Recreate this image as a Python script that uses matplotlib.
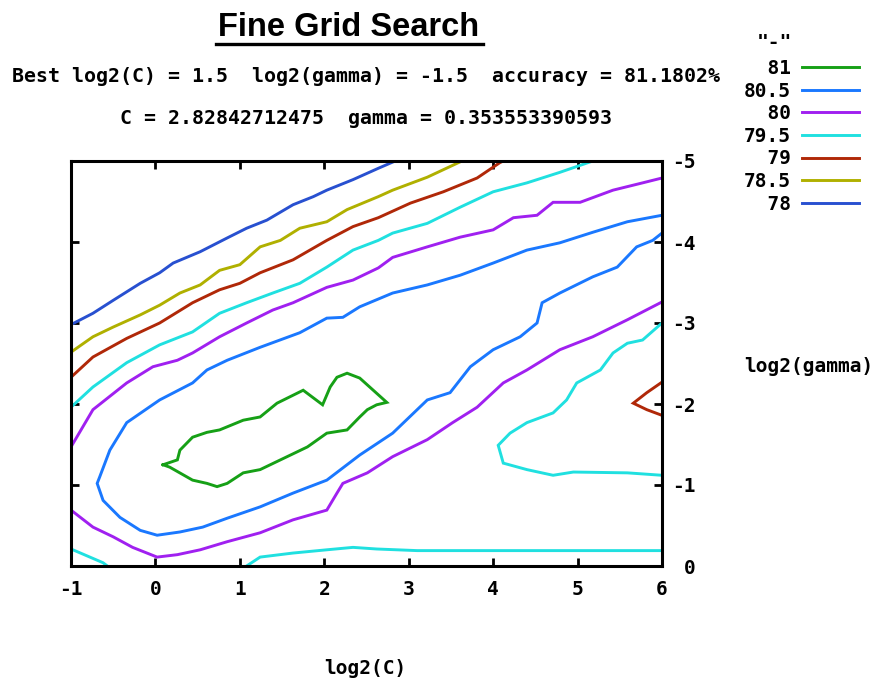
import matplotlib
matplotlib.use("Agg")
import matplotlib.pyplot as plt
from matplotlib.lines import Line2D
import numpy as np

plt.rcParams['axes.unicode_minus'] = False

# ---------------- data (log2(C), log2(gamma)) ----------------
levels = ["81", "80.5", "80", "79.5", "79", "78.5", "78"]
colors = ["#16a016", "#1a78ff", "#a020f0", "#20e0e0", "#b02808", "#b0b000", "#2850d0"]

c81 = [(0.09, -1.25), (0.26, -1.31), (0.29, -1.43), (0.44, -1.59), (0.61, -1.65), (0.76, -1.68),
       (1.04, -1.80), (1.24, -1.84), (1.44, -2.01), (1.75, -2.17), (1.98, -1.99), (2.07, -2.21),
       (2.15, -2.33), (2.27, -2.38), (2.42, -2.32), (2.74, -2.02), (2.62, -1.99), (2.51, -1.93),
       (2.42, -1.84), (2.27, -1.68), (2.03, -1.64), (1.80, -1.47), (1.24, -1.19), (1.04, -1.15),
       (0.85, -1.02), (0.73, -0.98), (0.61, -1.02), (0.44, -1.06), (0.17, -1.22), (0.09, -1.25)]

c805 = [(6.00, -4.33), (5.59, -4.25), (5.18, -4.12), (4.79, -3.99), (4.40, -3.90), (4.00, -3.74),
        (3.61, -3.59), (3.22, -3.47), (2.81, -3.37), (2.42, -3.20), (2.22, -3.07), (2.03, -3.06),
        (1.71, -2.88), (1.24, -2.70), (0.85, -2.54), (0.61, -2.42), (0.44, -2.26), (0.05, -2.05),
        (-0.34, -1.77), (-0.54, -1.43), (-0.66, -1.10), (-0.69, -1.02), (-0.62, -0.81), (-0.42, -0.60),
        (-0.18, -0.44), (0.02, -0.38), (0.29, -0.42), (0.56, -0.48), (0.85, -0.59), (1.24, -0.73),
        (1.63, -0.90), (2.03, -1.06), (2.42, -1.37), (2.81, -1.64), (3.22, -2.05), (3.49, -2.14),
        (3.73, -2.46), (4.00, -2.67), (4.32, -2.83), (4.52, -3.00), (4.58, -3.25), (4.79, -3.37),
        (5.18, -3.57), (5.47, -3.69), (5.70, -3.94), (5.89, -4.02), (6.00, -4.11)]

c80_upper = [(-1.00, -1.47), (-0.74, -1.93), (-0.34, -2.26), (-0.03, -2.46), (0.26, -2.54),
             (0.44, -2.63), (0.76, -2.83), (1.08, -3.00), (1.39, -3.16), (1.63, -3.25), (2.03, -3.44),
             (2.34, -3.53), (2.64, -3.68), (2.81, -3.81), (3.22, -3.94), (3.61, -4.06), (4.00, -4.15),
             (4.24, -4.30), (4.52, -4.33), (4.71, -4.49), (5.03, -4.49), (5.42, -4.64), (5.77, -4.73),
             (6.00, -4.79)]
c80_lower = [(-1.00, -0.69), (-0.74, -0.48), (-0.50, -0.36), (-0.27, -0.23), (0.02, -0.11),
             (0.26, -0.14), (0.53, -0.20), (0.85, -0.30), (1.24, -0.41), (1.63, -0.57), (2.03, -0.69),
             (2.15, -0.90), (2.22, -1.02), (2.51, -1.15), (2.81, -1.35), (3.22, -1.56), (3.52, -1.77),
             (3.81, -1.96), (4.12, -2.26), (4.40, -2.42), (4.79, -2.67), (5.18, -2.83), (5.59, -3.04),
             (6.00, -3.26)]

c795_upper = [(-1.00, -1.96), (-0.74, -2.21), (-0.34, -2.51), (0.05, -2.73), (0.44, -2.89),
              (0.76, -3.12), (1.08, -3.25), (1.39, -3.37), (1.71, -3.49), (2.03, -3.69), (2.34, -3.90),
              (2.64, -4.02), (2.81, -4.11), (3.22, -4.23), (3.61, -4.43), (4.00, -4.62), (4.40, -4.73),
              (4.79, -4.86), (5.18, -5.00)]
c795_right = [(6.00, -3.00), (5.77, -2.79), (5.59, -2.75), (5.42, -2.63), (5.27, -2.42), (4.99, -2.26),
              (4.87, -2.05), (4.71, -1.89), (4.40, -1.77), (4.20, -1.64), (4.06, -1.49), (4.12, -1.27),
              (4.40, -1.19), (4.71, -1.12), (4.95, -1.16), (5.59, -1.15), (6.00, -1.12)]
c795_bottom = [(1.08, 0.00), (1.24, -0.11), (1.63, -0.16), (2.03, -0.20), (2.34, -0.23),
               (2.62, -0.21), (3.10, -0.19), (6.00, -0.19)]
c795_corner = [(-1.00, -0.21), (-0.62, -0.04), (-0.57, 0.00)]

c79_upper = [(-1.00, -2.33), (-0.74, -2.58), (-0.34, -2.81), (0.05, -3.00), (0.44, -3.25),
             (0.76, -3.41), (1.00, -3.49), (1.24, -3.62), (1.63, -3.78), (2.03, -4.02), (2.34, -4.19),
             (2.64, -4.30), (3.02, -4.48), (3.41, -4.62), (3.81, -4.79), (4.08, -4.98), (4.12, -5.00)]
c79_right = [(6.00, -2.27), (5.82, -2.14), (5.66, -2.01), (5.82, -1.93), (6.00, -1.86)]

c785 = [(-1.00, -2.64), (-0.74, -2.83), (-0.50, -2.95), (-0.18, -3.10), (0.05, -3.22), (0.29, -3.37),
        (0.53, -3.47), (0.76, -3.65), (1.00, -3.72), (1.24, -3.94), (1.48, -4.02), (1.71, -4.17),
        (2.03, -4.25), (2.27, -4.40), (2.64, -4.56), (2.81, -4.64), (3.22, -4.80), (3.61, -4.99),
        (3.63, -5.00)]

c78 = [(-1.00, -2.98), (-0.74, -3.12), (-0.50, -3.28), (-0.18, -3.49), (0.05, -3.62), (0.21, -3.74),
       (0.53, -3.88), (0.85, -4.05), (1.08, -4.17), (1.32, -4.27), (1.63, -4.46), (1.87, -4.56),
       (2.03, -4.64), (2.34, -4.77), (2.64, -4.91), (2.84, -5.00)]

segments = {
    "81": [c81],
    "80.5": [c805],
    "80": [c80_upper, c80_lower],
    "79.5": [c795_upper, c795_right, c795_bottom, c795_corner],
    "79": [c79_upper, c79_right],
    "78.5": [c785],
    "78": [c78],
}

x_ticks = [-1, 0, 1, 2, 3, 4, 5, 6]
x_ticklabels = ["-1", "0", "1", "2", "3", "4", "5", "6"]
y_ticks = [0, -1, -2, -3, -4, -5]
y_ticklabels = ["0", "-1", "-2", "-3", "-4", "-5"]

title = "Fine Grid Search"
info1 = "Best log2(C) = 1.5  log2(gamma) = -1.5  accuracy = 81.1802%"
info2 = "C = 2.82842712475  gamma = 0.353553390593"

# ---------------- figure ----------------
W, H = 874, 678
fig = plt.figure(figsize=(W / 100, H / 100), dpi=100)
ax = fig.add_axes([71 / W, 1 - 566 / H, (662 - 71) / W, (566 - 161) / H])

mono = "DejaVu Sans Mono"
fs = 14.0
lw = 2.1

handles = []
for lev, col in zip(levels, colors):
    first = True
    for seg in segments[lev]:
        arr = np.array(seg)
        ln, = ax.plot(arr[:, 0], arr[:, 1], color=col, lw=lw, solid_joinstyle="miter",
                      label=("%4s" % lev) if first else None, clip_on=True)
        if first:
            handles.append(ln)
        first = False

ax.set_xlim(-1, 6)
ax.set_ylim(0, -5)

for s in ax.spines.values():
    s.set_linewidth(2.2)

ax.set_xticks(x_ticks)
ax.set_xticklabels(x_ticklabels, fontfamily=mono, fontweight="bold", fontsize=fs)
ax.tick_params(axis="x", which="both", direction="in", length=6, width=2, top=True, bottom=True,
               pad=10)

ax.yaxis.tick_right()
ax.set_yticks(y_ticks)
ax.set_yticklabels(y_ticklabels, fontfamily=mono, fontweight="bold", fontsize=fs, ha="right")
ax.tick_params(axis="y", which="both", direction="in", length=6, width=2, left=True, right=True,
               labelleft=False, labelright=True, pad=24)

ax.set_xlabel("log2(C)", fontfamily=mono, fontweight="bold", fontsize=fs)
ax.xaxis.set_label_coords((365 - 71) / 591, (566 - 668) / 405)
ax.xaxis.label.set_va("center")
ax.yaxis.set_label_position("right")
ax.set_ylabel("log2(gamma)", fontfamily=mono, fontweight="bold", fontsize=fs, rotation=0,
              ha="center", va="center")
ax.yaxis.set_label_coords((809 - 71) / 591, (566 - 366) / 405)

# titles
fig.text(349 / W, 1 - 28 / H, title, fontfamily="Liberation Sans", fontweight="bold",
         fontsize=23.5, ha="center", va="center")
fig.add_artist(Line2D([216 / W, 483 / W], [1 - 44 / H, 1 - 44 / H], color="black", lw=2.4))
fig.text(366 / W, 1 - 77 / H, info1, fontfamily=mono, fontweight="bold", fontsize=14.3,
         ha="center", va="center")
fig.text(366 / W, 1 - 119 / H, info2, fontfamily=mono, fontweight="bold", fontsize=14.3,
         ha="center", va="center")

# legend
fig.text(792 / W, 1 - 43 / H, '"-"', fontfamily=mono, fontweight="bold", fontsize=fs,
         ha="right", va="center")
leg = fig.legend(handles=handles, loc="upper left", bbox_to_anchor=(744 / W, 1 - 59 / H),
                 frameon=False, markerfirst=False, borderpad=0, borderaxespad=0,
                 handlelength=2.95, handletextpad=0.55, labelspacing=0.185,
                 prop={"family": mono, "weight": "bold", "size": fs})

fig.savefig("out.png", dpi=100)
